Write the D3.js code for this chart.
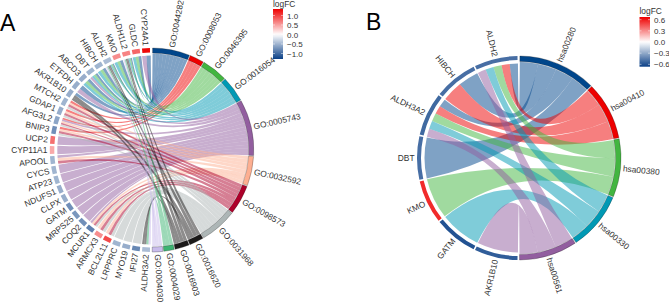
<!DOCTYPE html>
<html><head><meta charset="utf-8">
<script src="https://cdn.jsdelivr.net/npm/d3@7"></script>
<style>html,body{margin:0;padding:0;background:#fff}svg{display:block}text{font-family:"Liberation Sans",Arial,sans-serif}</style>
</head><body><svg id="c" width="669" height="303"></svg>
<script>
// Panel A data
const genesA = ["ALDH3A2","IFI27","MYO19","LRPPRC","BCL2L11","ARMCX3","MCUR1","COQ2","MRPS25","GATM","CLPX","NDUFS1","ATP23","CYCS","APOOL","CYP11A1","UCP2","BNIP3","AFG3L2","GDAP1","MTCH2","AKR1B10","ETFDH","ABCD3","DBT","HIBCH","ALDH2","KMO","ALDH1L2","GLDC","CYP24A1"];
const logfcA = [-0.45,-0.8,-0.55,-0.5,0.95,0.6,-0.85,-0.75,-0.7,-0.75,-0.55,-0.55,-0.5,-0.5,-0.5,0.45,0.75,-0.75,-0.6,-0.55,-0.5,-0.55,-0.55,-0.55,-0.5,-0.5,-0.45,0.6,0.65,0.8,1.3];
const termsA = ["GO:0044282","GO:0008053","GO:0046395","GO:0016054","GO:0005743","GO:0032592","GO:0098573","GO:0031968","GO:0016620","GO:0016903","GO:0004029","GO:0004030"];
const colorsA = ["#00468B","#ED0000","#42B540","#0099B4","#925E9F","#FDAF91","#AD002A","#ADB6B6","#1B1919","#1B1919","#3CB371","#C9BCEC"];
const membersA = [
  ["AKR1B10","ETFDH","ABCD3","DBT","HIBCH","ALDH2","KMO","ALDH1L2","GLDC","CYP24A1"],
  ["BNIP3","AFG3L2","GDAP1","MTCH2"],
  ["ABCD3","DBT","HIBCH","ALDH2","KMO","ALDH1L2","GLDC"],
  ["ABCD3","DBT","HIBCH","ALDH2","KMO","ALDH1L2","GLDC"],
  ["MCUR1","COQ2","MRPS25","GATM","CLPX","NDUFS1","ATP23","CYCS","APOOL","CYP11A1","UCP2","AFG3L2","ETFDH","DBT","CYP24A1"],
  ["BCL2L11","ARMCX3","MCUR1","APOOL","BNIP3","AFG3L2","GDAP1","MTCH2"],
  ["BCL2L11","ARMCX3","MCUR1","APOOL","BNIP3","AFG3L2","GDAP1","MTCH2"],
  ["IFI27","MYO19","LRPPRC","BCL2L11","ARMCX3","MCUR1","BNIP3","AFG3L2","GDAP1","MTCH2"],
  ["ALDH3A2","AKR1B10","ALDH2","ALDH1L2"],
  ["ALDH3A2","AKR1B10","ALDH2","ALDH1L2"],
  ["ALDH3A2","ALDH2","ALDH1L2"],
  ["ALDH3A2","ALDH2","ALDH1L2"]
];
const legendTicksA = [1.0,0.5,0.0,-0.5,-1.0];
const legendRangeA = [-1.29,1.34];

// Panel B data
const genesB = ["AKR1B10","GATM","KMO","DBT","ALDH3A2","HIBCH","ALDH2"];
const logfcB = [-0.56,-0.6,0.56,-0.5,-0.52,-0.5,-0.5];
const termsB = ["hsa00280","hsa00410","hsa00380","hsa00330","hsa00561"];
const colorsB = ["#00468B","#ED0000","#42B540","#0099B4","#925E9F"];
const membersB = [
  ["DBT","ALDH3A2","HIBCH","ALDH2"],
  ["ALDH3A2","HIBCH","ALDH2"],
  ["KMO","ALDH3A2","ALDH2"],
  ["GATM","ALDH3A2","ALDH2"],
  ["AKR1B10","ALDH3A2","ALDH2"]
];
const legendTicksB = [0.6,0.3,0.0,-0.3,-0.6];
const legendRangeB = [-0.664,0.672];

const svg = d3.select("#c");
const rad = d => d*Math.PI/180;
const ink = "#333333";
const fontSize = 8.4;

function chord(o){
  const g = svg.append("g").attr("transform",`translate(${o.cx},${o.cy})`);
  const color = d3.scaleLinear().domain([o.range[0],0,o.range[1]]).range(["#0A3F86","#ffffff","#EE0000"]).clamp(true);
  const geneAngle = d3.scaleLinear().domain([0,o.genes.length]).range([180.4,359.6]);
  const total = d3.sum(o.members,m=>m.length);
  const termAngle = d3.scaleLinear().domain([0,total]).range([0.2,180]);
  const perGene = o.genes.map(x=>o.members.map((m,i)=>m.includes(x)?i:-1).filter(i=>i>=0));
  const ribbon = d3.ribbon().sourceRadius(o.R-o.geneRib).targetRadius(o.R-o.termRib);
  const arc = d3.arc();
  let used = 0;
  const termSpans = [];
  o.members.forEach((m,t)=>{
    const sorted = m.slice().sort((a,b)=>o.genes.indexOf(b)-o.genes.indexOf(a));
    const start = used;
    sorted.forEach((name,k)=>{
      const gi = o.genes.indexOf(name);
      const list = perGene[gi];
      const pos = list.indexOf(t);
      const gEnd = geneAngle(gi+1)-o.ribGap/2, gStart = geneAngle(gi)+o.ribGap/2;
      const w = (gEnd-gStart)/list.length;
      g.append("path")
        .attr("d",ribbon({
          source:{startAngle:rad(gEnd-(pos+1)*w),endAngle:rad(gEnd-pos*w)},
          target:{startAngle:rad(termAngle(start+k)+(k===0?o.termGap:0)),endAngle:rad(termAngle(start+k+1)-(k===sorted.length-1?o.termGap:0))}
        }))
        .attr("fill",o.colors[t]).attr("fill-opacity",0.5).attr("stroke","none");
    });
    used += m.length;
    termSpans.push([start,used]);
  });
  o.genes.forEach((name,i)=>{
    const a0 = geneAngle(i)+o.cellGap/2, a1 = geneAngle(i+1)-o.cellGap/2;
    g.append("path").attr("d",arc({innerRadius:o.R-o.geneCell,outerRadius:o.R,startAngle:rad(a0),endAngle:rad(a1)}))
      .attr("fill",color(o.logfc[i]));
    label(g,o,name,(a0+a1)/2);
  });
  o.terms.forEach((name,t)=>{
    const a0 = termAngle(termSpans[t][0])+o.termGap, a1 = termAngle(termSpans[t][1])-o.termGap;
    g.append("path").attr("d",arc({innerRadius:o.R-o.termCell,outerRadius:o.R,startAngle:rad(a0),endAngle:rad(a1)}))
      .attr("fill",o.colors[t]).attr("stroke","#222").attr("stroke-opacity",0.7).attr("stroke-width",0.4);
    label(g,o,name,(a0+a1)/2);
  });
  const y = d3.scaleLinear().domain(o.range).range([o.ly1,o.ly0]);
  const id = "grad"+o.id;
  const grad = svg.append("defs").append("linearGradient").attr("id",id).attr("x1",0).attr("x2",0).attr("y1",1).attr("y2",0);
  d3.range(0,1.0001,0.05).forEach(f=>{
    const v = o.range[0]+f*(o.range[1]-o.range[0]);
    grad.append("stop").attr("offset",f).attr("stop-color",color(v));
  });
  svg.append("rect").attr("x",o.lx).attr("y",o.ly0).attr("width",o.lw).attr("height",o.ly1-o.ly0).attr("fill",`url(#${id})`);
  const ax = svg.append("g").attr("transform",`translate(${o.lx+o.lw},0)`)
    .call(d3.axisRight(y).tickValues(o.ticks).tickSize(0).tickPadding(4).tickFormat(d3.format(".1f")));
  ax.select(".domain").remove();
  ax.selectAll("text").attr("font-size",8).attr("font-family","Liberation Sans").attr("fill",ink);
  o.ticks.forEach(v=>{
    [[o.lx,o.lx+2],[o.lx+o.lw-2,o.lx+o.lw]].forEach(([a,b])=>
      svg.append("line").attr("x1",a).attr("x2",b).attr("y1",y(v)).attr("y2",y(v)).attr("stroke","#fff").attr("stroke-width",0.5));
  });
  svg.append("text").attr("x",o.lx).attr("y",o.titleY).attr("font-size",8.4).attr("fill",ink).text("logFC");
  svg.append("text").attr("x",o.letterX).attr("y",o.letterY).attr("font-size",23).attr("fill","#000").text(o.letter);
}
function label(g,o,name,deg){
  const r = o.R+o.labelOff;
  const x = r*Math.sin(rad(deg)), yy = -r*Math.cos(rad(deg));
  const right = deg<180;
  g.append("text").attr("transform",`translate(${x},${yy}) rotate(${right?deg-90:deg+90})`)
    .attr("text-anchor",right?"start":"end").attr("dy","0.35em")
    .attr("font-size",fontSize).attr("fill",ink).text(name);
}
chord({id:"A",cx:151.8,cy:150,R:102,genes:genesA,logfc:logfcA,terms:termsA,colors:colorsA,members:membersA,
  geneRib:7.5,termRib:5.5,geneCell:4.5,termCell:5,ribGap:0.5,cellGap:1.3,termGap:0.25,labelOff:2.5,
  range:legendRangeA,ticks:legendTicksA,lx:273,lw:10,ly0:9,ly1:59,titleY:7.4,letter:"A",letterX:0,letterY:31});
chord({id:"B",cx:519,cy:158,R:102,genes:genesB,logfc:logfcB,terms:termsB,colors:colorsB,members:membersB,
  geneRib:7.5,termRib:6,geneCell:4,termCell:5.5,ribGap:0.5,cellGap:0.9,termGap:0.3,labelOff:2.5,
  range:legendRangeB,ticks:legendTicksB,lx:639.5,lw:10.5,ly0:17,ly1:66.7,titleY:14.4,letter:"B",letterX:366,letterY:30});
</script></body></html>
